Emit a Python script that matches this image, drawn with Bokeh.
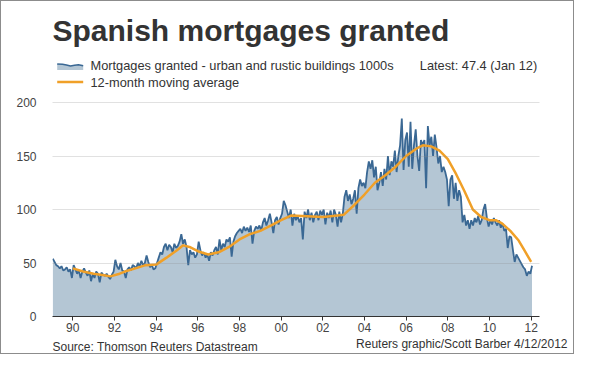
from bokeh.plotting import figure
from bokeh.layouts import column
from bokeh.models import Range1d, FixedTicker
from bokeh.core.properties import value
from bokeh.embed import file_html
from bokeh.resources import INLINE

# ---- data (monthly, thousands) ----
m1989 = [54, 51, 48, 47, 45, 47, 43, 44, 46, 42, 44, 36]
m1990 = [48, 44, 40, 43, 36, 42, 45, 41, 38, 43, 33, 40]
m1991 = [36, 42, 40, 32, 41, 39, 38, 40, 37, 35, 39, 42]
m1992 = [53, 47, 44, 50, 43, 42, 36, 44, 46, 43, 48, 47]
m1993 = [45, 50, 47, 52, 48, 50, 57, 51, 46, 48, 44, 45]
m1994 = [50, 55, 60, 58, 65, 68, 62, 67, 65, 60, 68, 64]
m1995 = [66, 70, 77, 68, 72, 65, 48, 62, 58, 60, 55, 58]
m1996 = [70, 62, 57, 60, 55, 58, 52, 60, 57, 62, 65, 58]
m1997 = [72, 62, 68, 65, 72, 70, 74, 56, 70, 75, 78, 80]
m1998 = [82, 78, 84, 80, 83, 79, 85, 68, 80, 84, 82, 85]
m1999 = [80, 88, 92, 85, 90, 96, 88, 78, 90, 93, 86, 92]
m2000 = [96, 108, 104, 98, 92, 100, 85, 96, 90, 94, 88, 92]
m2001 = [72, 98, 92, 100, 90, 97, 88, 95, 98, 90, 99, 95]
m2002 = [100, 86, 97, 92, 99, 88, 100, 95, 84, 98, 88, 96]
m2003 = [112, 118, 108, 114, 105, 110, 118, 96, 120, 128, 122, 125]
m2004 = [120, 135, 145, 138, 146, 130, 140, 118, 125, 135, 122, 138]
m2005 = [128, 150, 132, 145, 140, 155, 135, 150, 160, 185, 137, 165]
m2006 = [172, 140, 182, 138, 160, 175, 150, 136, 165, 160, 165, 120]
m2007 = [178, 160, 168, 150, 170, 158, 143, 150, 135, 140, 135, 128]
m2008 = [103, 128, 132, 110, 125, 108, 118, 112, 88, 95, 85, 90]
m2009 = [82, 90, 85, 92, 88, 94, 86, 90, 100, 105, 92, 84]
m2010 = [90, 86, 92, 88, 85, 90, 83, 87, 80, 82, 64, 75]
m2011 = [74, 62, 51, 58, 55, 52, 49, 46, 44, 38, 42, 40]
m2012 = [47.4]
first_year = 1989

# 12-month moving average
ma_years = [1990.0, 1990.5, 1991.0, 1991.5, 1991.8, 1992.25, 1992.5, 1993.0, 1993.5,
            1994.0, 1994.5, 1995.0, 1995.3, 1995.6, 1996.0, 1996.5, 1997.0, 1997.5,
            1998.0, 1998.5, 1999.0, 1999.5, 2000.0, 2000.5, 2001.0, 2001.5, 2002.0,
            2002.5, 2003.0, 2003.5, 2004.0, 2004.5, 2005.0, 2005.5, 2006.0, 2006.5,
            2006.8, 2007.2, 2007.6, 2008.0, 2008.4, 2008.8, 2009.2, 2009.6, 2010.0,
            2010.3, 2010.6, 2011.0, 2011.4, 2011.7, 2012.0]
ma_values = [45, 42, 40, 38.5, 37.5, 40, 42, 45, 48,
             48.5, 55, 62, 66.5, 65, 61, 58, 60, 65,
             72, 77, 80, 85, 90, 94.5, 94, 93.5, 93,
             94, 95, 104, 114, 125, 132, 140, 150, 157,
             160, 159, 155, 147, 133, 117, 100, 93, 90,
             90, 87, 80, 71, 61, 51]

tick_years = [1990, 1992, 1994, 1996, 1998, 2000, 2002, 2004, 2006, 2008, 2010, 2012]
tick_labels = ["90", "92", "94", "96", "98", "00", "02", "04", "06", "08", "10", "12"]
y_ticks = [0, 50, 100, 150, 200]

title_text = "Spanish mortgages granted"
legend_1 = "Mortgages granted - urban and rustic buildings 1000s"
legend_2 = "12-month moving average"
latest_text = "Latest: 47.4 (Jan 12)"
source_text = "Source: Thomson Reuters Datastream"
credit_text = "Reuters graphic/Scott Barber 4/12/2012"

monthly = (m1989 + m1990 + m1991 + m1992 + m1993 + m1994 + m1995 + m1996 + m1997 +
           m1998 + m1999 + m2000 + m2001 + m2002 + m2003 + m2004 + m2005 + m2006 +
           m2007 + m2008 + m2009 + m2010 + m2011 + m2012)
x = [first_year + (i + 0.5) / 12 for i in range(len(monthly))]

FONT = "Liberation Sans"
AREA = "#b4c6d4"
BLUE = "#3a6894"
ORANGE = "#f0a028"
TEXT = "#333333"

# ---- layout (pixels of the graphic; a 1px grey frame surrounds it) ----
W, H_MAIN, H_FOOT = 572, 335, 17
OFF = 1                       # frame border width
FL, FR, FB = 52 - OFF, 539 - OFF, 316 - OFF
X0, X1 = 1989.026, 2012.40
PX_PER_UNIT = 1.07

p = figure(width=W, height=H_MAIN, output_backend="svg", toolbar_location=None,
           x_range=Range1d(X0, X1), y_range=Range1d(0, FB / PX_PER_UNIT),
           min_border_left=FL, min_border_right=W - FR, min_border_top=0,
           min_border_bottom=H_MAIN - FB,
           background_fill_color="white", border_fill_color="white", outline_line_color=None)
p.frame_align = False

p.varea(x=x, y1=0, y2=monthly, fill_color=AREA)
p.line(x, monthly, line_color=BLUE, line_width=1.8)
p.line(ma_years, ma_values, line_color=ORANGE, line_width=2.5)

# axes
p.xaxis.ticker = FixedTicker(ticks=tick_years)
p.xaxis.major_label_overrides = {t: l for t, l in zip(tick_years, tick_labels)}
p.xaxis.minor_tick_line_color = None
p.xaxis.axis_line_color = "#333333"
p.xaxis.major_tick_line_color = "#333333"
p.xaxis.major_tick_out = 4
p.xaxis.major_tick_in = 0
p.xaxis.major_label_standoff = 2
p.xaxis.major_label_text_font = FONT
p.xaxis.major_label_text_font_size = "12px"
p.xaxis.major_label_text_color = "#444444"

p.yaxis.ticker = FixedTicker(ticks=y_ticks)
p.yaxis.axis_line_color = None
p.yaxis.major_tick_line_color = None
p.yaxis.minor_tick_line_color = None
p.yaxis.major_label_standoff = 10
p.yaxis.major_label_text_font = FONT
p.yaxis.major_label_text_font_size = "12px"
p.yaxis.major_label_text_color = "#444444"

p.xgrid.grid_line_color = None
p.ygrid.grid_line_color = "#888888"
p.ygrid.grid_line_alpha = 0.25
p.ygrid.level = "overlay"

# convert positions in the reference graphic (pixels) into the plot's units
def dx(ref_x):
    return X0 + (ref_x - OFF - FL) * (X1 - X0) / (FR - FL)

def dy(ref_y):
    return (FB - (ref_y - OFF)) / PX_PER_UNIT

def txt(fig, xs, ys, text, size, color=TEXT, bold=False, align="left", baseline="middle"):
    fig.text(x=xs, y=ys, text=[text], text_font=value(FONT), text_font_size=value(size),
             text_color=color, text_font_style="bold" if bold else "normal",
             text_align=align, text_baseline=baseline)

txt(p, [dx(52)], [dy(30)], title_text, "30px", "#333333", bold=True, baseline="alphabetic")
txt(p, [dx(90)], [dy(65)], legend_1, "12.8px")
txt(p, [dx(90)], [dy(81.5)], legend_2, "12.8px")
txt(p, [dx(419.3)], [dy(65)], latest_text, "12.8px")

# legend icons
icon_x = [56.7, 62, 66, 70, 74, 78, 82.7]
icon_top = [63.5, 63.8, 64.6, 65.5, 64.8, 64.2, 65.3]
p.patch([dx(v) for v in icon_x + [82.7, 56.7]], [dy(v) for v in icon_top + [69.5, 69.5]],
        fill_color=AREA, line_color=None)
p.line([dx(v) for v in icon_x], [dy(v) for v in icon_top], line_color=BLUE, line_width=1.5)
p.line([dx(56.7), dx(82.7)], [dy(81.5), dy(81.5)], line_color=ORANGE, line_width=2.5)

# ---- footer strip with source and credit (coordinates = pixels of the strip) ----
f = figure(width=W, height=H_FOOT, output_backend="svg", toolbar_location=None,
           x_range=Range1d(0, W), y_range=Range1d(H_FOOT, 0),
           x_axis_location=None, y_axis_location=None,
           min_border_left=0, min_border_right=0, min_border_top=0, min_border_bottom=0,
           background_fill_color="white", border_fill_color="white", outline_line_color=None)
f.frame_align = False
f.xgrid.grid_line_color = None
f.ygrid.grid_line_color = None
txt(f, [52 - OFF], [10.0], source_text, "12px")
txt(f, [W - 6], [7.0], credit_text, "12px", align="right")

layout = column(p, f, spacing=0)
layout.styles = {"border": "1px solid #8c8c8c"}

open("out.html", "w").write(file_html(layout, INLINE))
